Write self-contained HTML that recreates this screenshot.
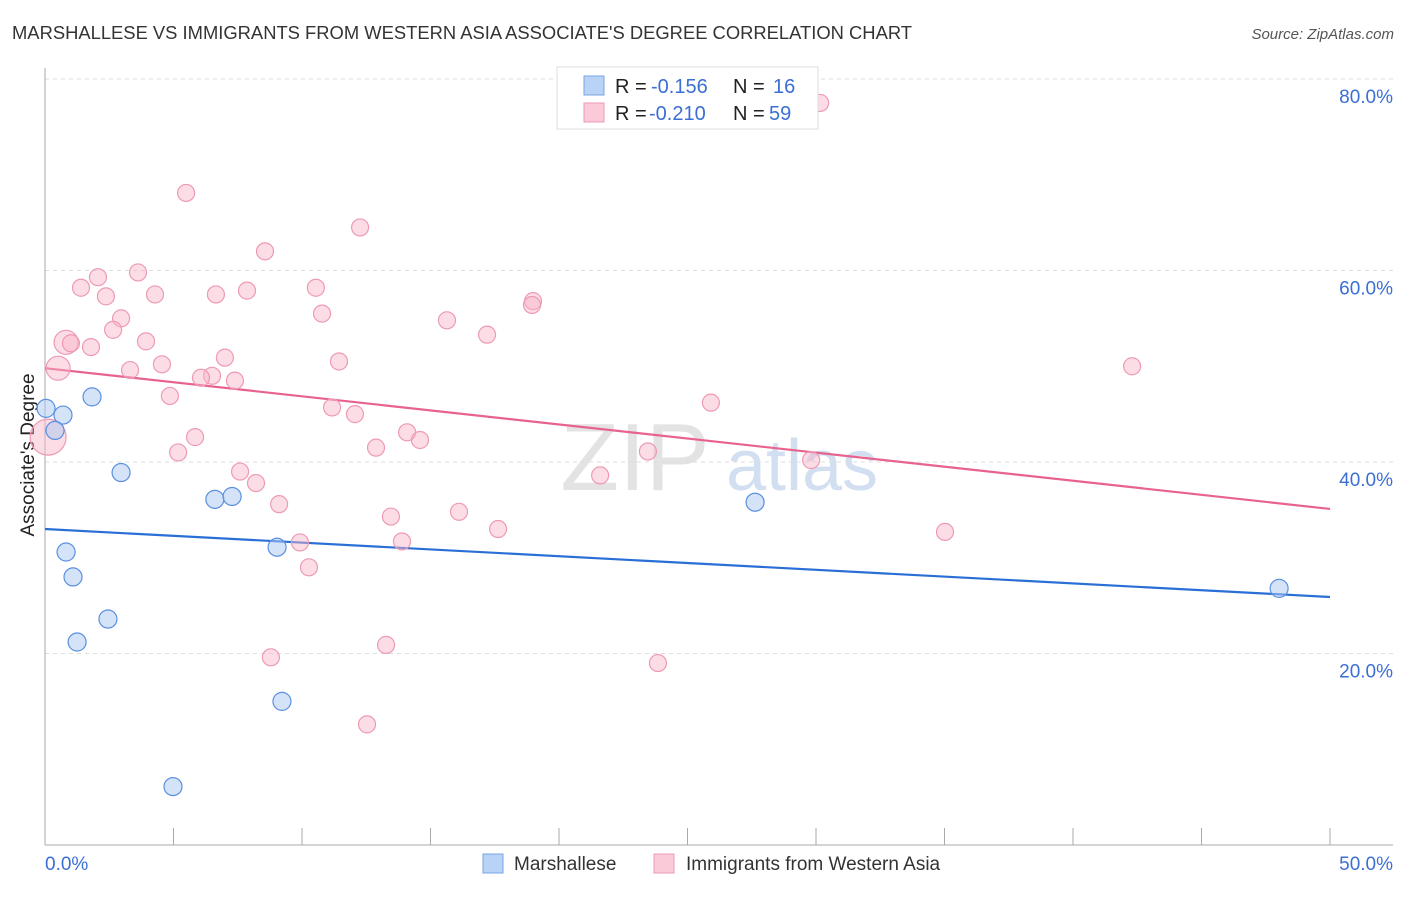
<!DOCTYPE html>
<html><head><meta charset="utf-8"><style>
body{margin:0;background:#fff;font-family:"Liberation Sans",sans-serif}
svg text{font-family:"Liberation Sans",sans-serif}
</style></head><body>
<svg id="chart" width="1406" height="892" viewBox="0 0 1406 892" xmlns="http://www.w3.org/2000/svg">
<text x="12" y="39" font-size="18" fill="#333" textLength="900" lengthAdjust="spacingAndGlyphs">MARSHALLESE VS IMMIGRANTS FROM WESTERN ASIA ASSOCIATE'S DEGREE CORRELATION CHART</text>
<text x="1394" y="39" font-size="15" fill="#555" font-style="italic" text-anchor="end">Source: ZipAtlas.com</text>
<g>
<text x="635" y="490" font-size="96" fill="#ddd" font-family="Liberation Serif" text-anchor="middle" opacity="0.8">ZIP</text>
<text x="802" y="490" font-size="72" fill="#c8d8ee" text-anchor="middle" opacity="0.8">atlas</text>
</g>
<g id="grid"></g>
<g id="axes"></g>
<text transform="translate(34,455) rotate(-90)" font-size="19" fill="#222" text-anchor="middle">Associate's Degree</text>
<g id="lines"></g>
<g id="pts"></g>
<g>
<rect x="557" y="67" width="261" height="62" fill="#fff" stroke="#ddd"/>
<rect x="584" y="76" width="20" height="19" fill="#b8d3f5" stroke="#7aa6e6"/>
<rect x="584" y="103" width="20" height="19" fill="#fbcad8" stroke="#ee9ab4"/>
<text x="615" y="93" font-size="20" fill="#222">R =</text>
<text x="651" y="93" font-size="20" fill="#3b6fd4">-0.156</text>
<text x="733" y="93" font-size="20" fill="#222">N =</text>
<text x="773" y="93" font-size="20" fill="#3b6fd4">16</text>
<text x="615" y="120" font-size="20" fill="#222">R =</text>
<text x="649" y="120" font-size="20" fill="#3b6fd4">-0.210</text>
<text x="733" y="120" font-size="20" fill="#222">N =</text>
<text x="769" y="120" font-size="20" fill="#3b6fd4">59</text>
</g>
<g>
<rect x="483" y="854" width="20" height="19" fill="#b8d3f5" stroke="#7aa6e6"/>
<text x="514" y="870" font-size="19" fill="#333">Marshallese</text>
<rect x="654" y="854" width="20" height="19" fill="#fbcad8" stroke="#ee9ab4"/>
<text x="686" y="870" font-size="19" fill="#333">Immigrants from Western Asia</text>
</g>
</svg>
<script>
const yTicks=[20,40,60,80];
const yTickLabels=["20.0%","40.0%","60.0%","80.0%"];
const xTickLabels=["0.0%","50.0%"];
const blueX=[0.04,0.70,0.39,1.83,2.96,0.82,1.09,1.25,2.45,6.61,7.28,9.03,9.22,4.98,27.63,48.02];
const blueY=[45.6,44.9,43.3,46.8,38.9,30.6,28.0,21.2,23.6,36.1,36.4,31.1,15.0,6.1,35.8,26.8];
const pinkX=[5.49,12.26,8.56,3.62,2.06,1.40,2.37,4.28,6.65,7.86,10.54,18.99,18.95,10.78,2.96,15.64,2.65,17.20,0.82,1.01,1.79,3.93,7.00,11.44,4.55,3.31,0.51,6.50,6.07,7.39,4.86,25.91,11.17,12.06,5.84,14.09,14.59,12.88,23.46,5.18,0.12,29.81,7.59,21.60,8.21,42.30,9.11,13.46,16.11,17.63,35.02,9.92,13.89,10.27,13.27,8.79,23.85,12.53,30.16];
const pinkY=[68.1,64.5,62.0,59.8,59.3,58.2,57.3,57.5,57.5,57.9,58.2,56.8,56.4,55.5,55.0,54.8,53.8,53.3,52.5,52.4,52.0,52.6,50.9,50.5,50.2,49.6,49.8,49.0,48.8,48.5,46.9,46.2,45.7,45.0,42.6,43.1,42.3,41.5,41.1,41.0,42.6,40.2,39.0,38.6,37.8,50.0,35.6,34.3,34.8,33.0,32.7,31.6,31.7,29.0,20.9,19.6,19.0,12.6,77.5];
const pinkR=[8.5,8.5,8.5,8.5,8.5,8.5,8.5,8.5,8.5,8.5,8.5,8.5,8.5,8.5,8.5,8.5,8.5,8.5,12,8.5,8.5,8.5,8.5,8.5,8.5,8.5,12,8.5,8.5,8.5,8.5,8.5,8.5,8.5,8.5,8.5,8.5,8.5,8.5,8.5,18,8.5,8.5,8.5,8.5,8.5,8.5,8.5,8.5,8.5,8.5,8.5,8.5,8.5,8.5,8.5,8.5,8.5,8.5];
const blueTrend=[33.0,25.9];
const pinkTrend=[49.8,35.1];
const NS="http://www.w3.org/2000/svg";
const X=v=>45+v/50*1285, Y=v=>845-v/80*766;
function mk(t,a,p){const e=document.createElementNS(NS,t);for(const k in a)e.setAttribute(k,a[k]);p.appendChild(e);return e;}
const grid=document.getElementById('grid'),axes=document.getElementById('axes');
yTicks.forEach((t,i)=>{
 const l=mk('line',{x1:45,x2:1393,y1:Y(t),y2:Y(t),stroke:'#ddd','stroke-dasharray':'4,4'},grid);
 
 
 const tx=mk('text',{x:1393,y:Y(t)+24,'font-size':19,fill:'#3b6fd4','text-anchor':'end'},axes);
 tx.textContent=yTickLabels[i];
 
 
});
mk('line',{x1:45,x2:45,y1:68,y2:845,stroke:'#aaa'},axes);
mk('line',{x1:45,x2:1393,y1:845,y2:845,stroke:'#aaa'},axes);
for(let i=0;i<=10;i++){const t=mk('line',{x1:X(i*5),x2:X(i*5),y1:828,y2:845,stroke:'#aaa'},axes);
 
 }
[[0,'start',45],[50,'end',1393]].forEach((d,i)=>{const t=mk('text',{x:d[2],y:870,'font-size':19,fill:'#3b6fd4','text-anchor':d[1]},axes);t.textContent=xTickLabels[i];
 
 });
const lines=document.getElementById('lines'),pts=document.getElementById('pts');
function series(xs,ys,rs,fill,stroke,name){xs.forEach((x,i)=>{const c=mk('circle',{cx:X(x),cy:Y(ys[i]),r:rs?rs[i]:9,fill:fill,stroke:stroke,'stroke-width':1.2},pts);
 
 });}
series(pinkX,pinkY,pinkR,'rgba(248,180,200,0.45)','#ee9ab4','pink-point');
series(blueX,blueY,null,'rgba(170,200,240,0.5)','#5b8fe0','blue-point');
const bl=mk('line',{x1:X(0),x2:X(50),y1:Y(blueTrend[0]),y2:Y(blueTrend[1]),stroke:'#2a6fd6','stroke-width':2.2},lines);


const pl=mk('line',{x1:X(0),x2:X(50),y1:Y(pinkTrend[0]),y2:Y(pinkTrend[1]),stroke:'#e8628e','stroke-width':2.2},lines);


</script>
</body></html>
